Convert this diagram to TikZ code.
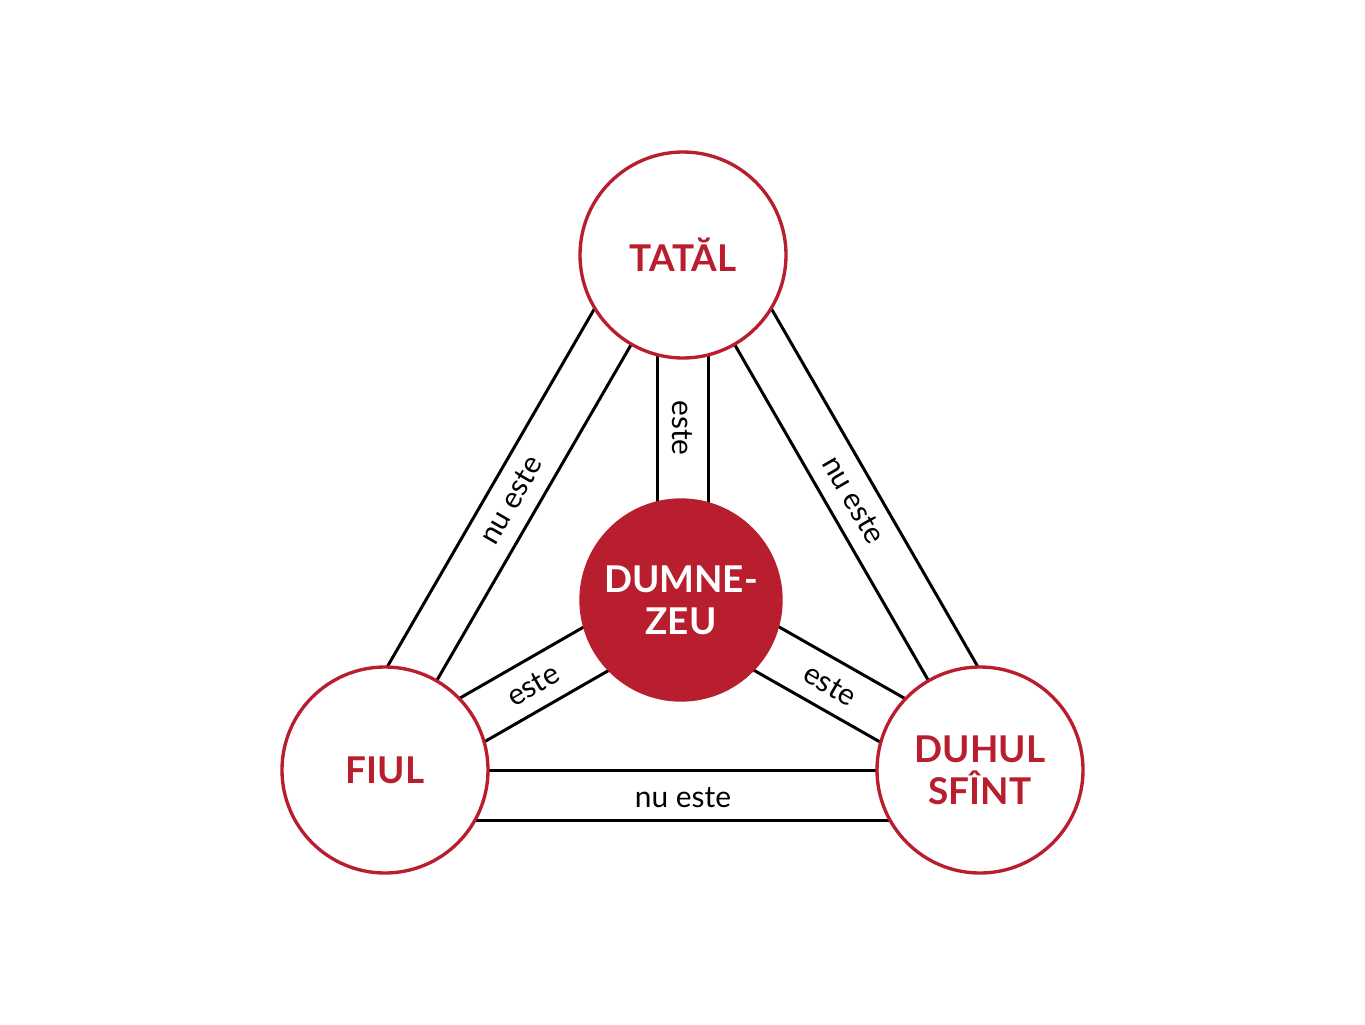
\documentclass[tikz,border=0pt]{standalone}
\usepackage{fontspec}
\setmainfont{Lato}
\definecolor{tred}{HTML}{B81E2D}
\begin{document}
\begin{tikzpicture}[x=0.02cm,y=-0.02cm,
  band/.style={line width=1.7pt,black},
  circ/.style={circle,draw=tred,line width=1.9pt,fill=white,minimum size=206*0.02cm,inner sep=0pt,align=center,text=tred,font=\fontsize{21}{24}\selectfont\bfseries},
  lab/.style={font=\fontsize{17}{18}\selectfont}]
\useasboundingbox (0,0) rectangle (1365,1024);
\fill[white] (0,0) rectangle (1365,1024);
\coordinate (A) at (683,255);
\coordinate (B) at (385,770);
\coordinate (C) at (980,770);
\coordinate (D) at (681,600);
% outer bands
\draw[band] (A) -- (B); \draw[band] (640,230) coordinate (a1) -- (342,745) coordinate (b1);
\draw[band] (A) -- (C); \draw[band] (726,230) coordinate (a2) -- (1023,745) coordinate (c2);
\draw[band] (B) -- (C); \draw[band] (385,820) coordinate (b3) -- (980,820) coordinate (c3);
% inner bands
\draw[band] (657,255) coordinate (a4) -- (657,600) coordinate (d4);
\draw[band] (708,255) coordinate (a5) -- (708,600) coordinate (d5);
\draw[band] (668.5,578.3) coordinate (d6) -- (372.5,748.3) coordinate (b6);
\draw[band] (693.5,621.7) coordinate (d7) -- (397.5,791.7) coordinate (b7);
\draw[band] (693.5,578.3) coordinate (d8) -- (992.5,748.3) coordinate (c8);
\draw[band] (668.5,621.7) coordinate (d9) -- (967.5,791.7) coordinate (c9);
% labels
\node[lab,rotate=60] (l1) at (511,500) {nu este};
\node[lab,rotate=-60] (l2) at (854,500) {nu este};
\node[lab] (l3) at (683,798) {nu este};
\node[lab,rotate=-90] (l4) at (682,428) {este};
\node[lab,rotate=30] (l5) at (533,685) {este};
\node[lab,rotate=-30] (l6) at (830,685) {este};
% circles
\node[circ] (tatal) at (A) {TATĂL};
\node[circ] (fiul) at (B) {FIUL};
\node[circ] (duh) at (C) {DUHUL\\SFÎNT};
\node[circ,fill=tred,text=white,minimum size=200*0.02cm] (dz) at (D) {DUMNE-\\ZEU};
\end{tikzpicture}
\end{document}
